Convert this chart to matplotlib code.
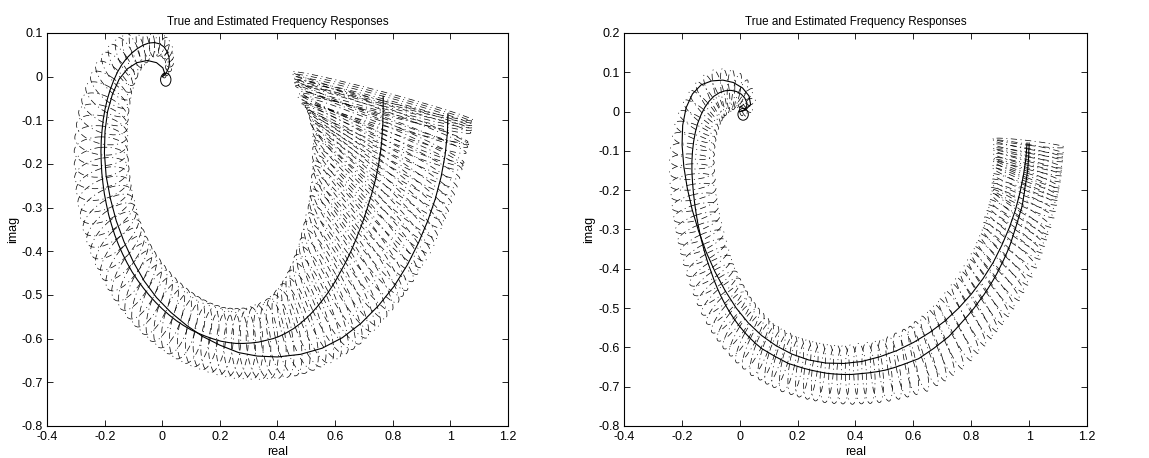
import numpy as np
import matplotlib
matplotlib.use("Agg")
import matplotlib.pyplot as plt
from matplotlib.patches import Ellipse

plt.rcParams['font.family'] = ['Liberation Sans', 'DejaVu Sans']

# ---- left panel ----
# estimated response (also the ellipse centres), low to high frequency
left_est_x = [0.767, 0.767, 0.767, 0.767, 0.767, 0.767, 0.767, 0.766, 0.766, 0.766, 0.765, 0.764,
              0.763, 0.762, 0.760, 0.758, 0.755, 0.752, 0.748, 0.744, 0.739, 0.733, 0.727, 0.720,
              0.713, 0.705, 0.697, 0.688, 0.678, 0.668, 0.657, 0.645, 0.632,
              0.618, 0.604, 0.589, 0.573, 0.556, 0.538, 0.519, 0.499, 0.478, 0.456, 0.433, 0.409, 0.385,
              0.360, 0.334, 0.308, 0.282, 0.256, 0.230, 0.204, 0.178, 0.152, 0.126, 0.100, 0.074, 0.049,
              0.024, 0.000, -0.023, -0.045, -0.066, -0.086, -0.105, -0.122, -0.138, -0.152, -0.165,
              -0.176, -0.186, -0.194, -0.201, -0.206, -0.210, -0.212, -0.213, -0.212, -0.209, -0.205,
              -0.199, -0.191, -0.181, -0.169, -0.156, -0.141, -0.124, -0.106, -0.087, -0.067, -0.047,
              -0.027, -0.009, 0.006, 0.017, 0.023, 0.025, 0.022, 0.015, 0.007]
left_est_y = [-0.045, -0.050, -0.056, -0.062, -0.068, -0.075, -0.082, -0.090, -0.098, -0.107, -0.116, -0.126,
              -0.137, -0.148, -0.160, -0.172, -0.185, -0.198, -0.211, -0.225, -0.239, -0.254, -0.269, -0.284,
              -0.299, -0.315, -0.331, -0.347, -0.363, -0.380, -0.397, -0.414, -0.431,
              -0.448, -0.465, -0.481, -0.497, -0.512, -0.527, -0.541, -0.554, -0.566, -0.577, -0.586, -0.594, -0.600,
              -0.604, -0.608, -0.610, -0.611, -0.611, -0.609, -0.606, -0.601, -0.595, -0.588, -0.580, -0.570, -0.559,
              -0.546, -0.532, -0.517, -0.501, -0.484, -0.466, -0.447, -0.427, -0.406, -0.385, -0.363,
              -0.340, -0.317, -0.293, -0.269, -0.245, -0.221, -0.196, -0.171, -0.146, -0.122, -0.098,
              -0.075, -0.052, -0.030, -0.009, 0.010, 0.027, 0.042, 0.054, 0.064, 0.072, 0.077,
              0.078, 0.075, 0.068, 0.057, 0.045, 0.032, 0.020, 0.010, 0.003]
# uncertainty ellipses: half axis across the curve / along the curve, extra tilt (deg)
left_ell_a = [0.320, 0.318, 0.316, 0.314, 0.312, 0.309, 0.306, 0.303, 0.300, 0.297, 0.294, 0.291,
              0.288, 0.284, 0.280, 0.276, 0.272, 0.268, 0.264, 0.259, 0.254, 0.249, 0.244, 0.239,
              0.234, 0.228, 0.222, 0.216, 0.210, 0.204, 0.198, 0.192, 0.185,
              0.178, 0.171, 0.164, 0.156, 0.148, 0.140, 0.132, 0.124, 0.117, 0.110, 0.104, 0.098, 0.093,
              0.089, 0.086, 0.083, 0.081, 0.080, 0.079, 0.078, 0.078, 0.078, 0.079, 0.080, 0.081, 0.082,
              0.083, 0.084, 0.085, 0.086, 0.087, 0.088, 0.089, 0.090, 0.091, 0.092, 0.093,
              0.094, 0.095, 0.095, 0.095, 0.095, 0.095, 0.094, 0.093, 0.092, 0.090, 0.087,
              0.084, 0.080, 0.076, 0.072, 0.067, 0.062, 0.057, 0.052, 0.047, 0.042, 0.037,
              0.033, 0.029, 0.025, 0.021, 0.017, 0.014, 0.011, 0.008, 0.006]
left_ell_b = [0.010, 0.010, 0.011, 0.011, 0.012, 0.012, 0.013, 0.013, 0.014, 0.015, 0.015, 0.016,
              0.017, 0.018, 0.019, 0.020, 0.021, 0.022, 0.023, 0.024, 0.025, 0.026, 0.027, 0.028,
              0.029, 0.030, 0.031, 0.032, 0.033, 0.034, 0.035, 0.036, 0.037,
              0.038, 0.039, 0.040, 0.040, 0.041, 0.041, 0.042, 0.042, 0.042, 0.042, 0.042, 0.042, 0.042,
              0.042, 0.042, 0.042, 0.042, 0.042, 0.042, 0.042, 0.042, 0.042, 0.042, 0.042, 0.042, 0.042,
              0.041, 0.041, 0.040, 0.040, 0.040, 0.039, 0.039, 0.038, 0.038, 0.037, 0.037,
              0.036, 0.036, 0.035, 0.035, 0.035, 0.034, 0.034, 0.033, 0.033, 0.032, 0.031,
              0.030, 0.029, 0.028, 0.027, 0.026, 0.025, 0.024, 0.023, 0.022, 0.021, 0.020,
              0.018, 0.017, 0.015, 0.013, 0.011, 0.010, 0.008, 0.007, 0.006]
left_ell_tilt = [-10, -10, -10, -10, -10, -10, -10, -10, -10, -10, -10, -10,
                 -10, -10, -10, -10, -10, -10, -10, -10, -10, -10, -10, -10,
                 -10, -10, -10, -10, -10, -10, -10, -10, -10,
                 -9.5, -9, -8, -7, -6, -5, -4, -3, -2, -1.5, -1, -0.5, 0,
                 0, 0, 0, 0, 0, 0, 0, 0, 0, 0, 0, 0, 0,
                 0, 0, 0, 0, 0, 0, 0, 0, 0, 0, 0,
                 0, 0, 0, 0, 0, 0, 0, 0, 0, 0, 0,
                 0, 0, 0, 0, 0, 0, 0, 0, 0, 0, 0,
                 0, 0, 0, 0, 0, 0, 0, 0, 0]
# true response
left_true_x = [0.992, 0.990, 0.982, 0.968, 0.948, 0.922, 0.890, 0.852, 0.805, 0.750, 0.690, 0.625,
               0.555, 0.480, 0.400, 0.330, 0.265, 0.200, 0.140, 0.085, 0.030, -0.020, -0.063, -0.100,
               -0.133, -0.160, -0.180, -0.195, -0.201, -0.199, -0.190, -0.173, -0.150, -0.121, -0.088,
               -0.052, -0.020, 0.002, 0.008, 0.000]
left_true_y = [-0.085, -0.130, -0.180, -0.230, -0.280, -0.330, -0.380, -0.430, -0.480, -0.525, -0.565, -0.598,
               -0.622, -0.636, -0.642, -0.640, -0.632, -0.615, -0.595, -0.570, -0.540, -0.506, -0.468, -0.425,
               -0.378, -0.330, -0.280, -0.228, -0.175, -0.125, -0.080, -0.040, -0.006, 0.018, 0.032,
               0.037, 0.032, 0.020, 0.008, 0.000]

# ---- right panel ----
right_est_x = [1.000, 1.000, 0.999, 0.999, 0.998, 0.997, 0.996, 0.995, 0.993, 0.991, 0.989, 0.986,
               0.984, 0.981, 0.978, 0.974, 0.968, 0.962, 0.956, 0.949, 0.942, 0.934, 0.924, 0.913,
               0.901, 0.889, 0.875, 0.860, 0.844, 0.827,
               0.810, 0.791, 0.768, 0.745, 0.722, 0.696, 0.670, 0.644, 0.618, 0.589, 0.560, 0.532,
               0.503, 0.474, 0.445, 0.416, 0.387, 0.358, 0.330, 0.301,
               0.272, 0.246, 0.220, 0.194, 0.168, 0.145, 0.122, 0.099, 0.076, 0.055, 0.035, 0.016,
               -0.002, -0.019, -0.035, -0.050, -0.064, -0.077, -0.089, -0.100,
               -0.111, -0.121, -0.130, -0.138, -0.145, -0.151, -0.156, -0.160, -0.163, -0.165, -0.165,
               -0.163, -0.159, -0.153, -0.145, -0.134, -0.121, -0.106, -0.089, -0.070,
               -0.050, -0.030, -0.011, 0.006, 0.018, 0.025, 0.024, 0.015, 0.006]
right_est_y = [-0.080, -0.090, -0.100, -0.110, -0.120, -0.130, -0.140, -0.150, -0.160, -0.170, -0.180, -0.192,
               -0.205, -0.218, -0.232, -0.246, -0.260, -0.275, -0.290, -0.306, -0.322, -0.340, -0.358, -0.376,
               -0.394, -0.412, -0.430, -0.448, -0.466, -0.483,
               -0.500, -0.517, -0.536, -0.555, -0.573, -0.588, -0.603, -0.616, -0.629, -0.637, -0.645, -0.652,
               -0.658, -0.662, -0.665, -0.667, -0.669, -0.669, -0.668, -0.666,
               -0.662, -0.658, -0.653, -0.647, -0.641, -0.632, -0.623, -0.613, -0.603, -0.590, -0.576, -0.561,
               -0.545, -0.528, -0.510, -0.491, -0.471, -0.450, -0.428, -0.405,
               -0.382, -0.358, -0.333, -0.308, -0.283, -0.257, -0.231, -0.205, -0.179, -0.153, -0.127,
               -0.101, -0.076, -0.052, -0.030, -0.009, 0.010, 0.026, 0.039, 0.048,
               0.053, 0.054, 0.051, 0.044, 0.034, 0.022, 0.011, 0.004, 0.001]
right_ell_a = [0.125, 0.125, 0.124, 0.124, 0.123, 0.123, 0.122, 0.122, 0.121, 0.121, 0.120, 0.119,
               0.118, 0.117, 0.116, 0.115, 0.114, 0.113, 0.112, 0.111, 0.110, 0.109, 0.108, 0.107,
               0.106, 0.105, 0.104, 0.103, 0.102, 0.101,
               0.100, 0.099, 0.098, 0.097, 0.096, 0.094, 0.092, 0.090, 0.088, 0.086, 0.084, 0.082,
               0.080, 0.079, 0.078, 0.077, 0.076, 0.075, 0.075, 0.075,
               0.075, 0.075, 0.075, 0.075, 0.075, 0.075, 0.076, 0.076, 0.077, 0.077, 0.078, 0.078,
               0.079, 0.079, 0.080, 0.080, 0.080, 0.080, 0.080, 0.080,
               0.080, 0.080, 0.080, 0.080, 0.080, 0.080, 0.080, 0.079, 0.079, 0.078, 0.077,
               0.076, 0.075, 0.074, 0.072, 0.070, 0.068, 0.066, 0.064, 0.062,
               0.058, 0.054, 0.048, 0.042, 0.036, 0.030, 0.024, 0.018, 0.012]
right_ell_b = [0.006, 0.006, 0.006, 0.006, 0.007, 0.007, 0.007, 0.007, 0.008, 0.008, 0.008, 0.008,
               0.009, 0.009, 0.009, 0.010, 0.010, 0.010, 0.011, 0.011, 0.011, 0.012, 0.012, 0.012,
               0.013, 0.013, 0.013, 0.014, 0.014, 0.014,
               0.015, 0.015, 0.016, 0.016, 0.017, 0.017, 0.018, 0.018, 0.019, 0.019, 0.020, 0.020,
               0.021, 0.021, 0.022, 0.022, 0.022, 0.022, 0.022, 0.022,
               0.022, 0.022, 0.022, 0.022, 0.022, 0.022, 0.022, 0.022, 0.022, 0.022, 0.021, 0.021,
               0.021, 0.021, 0.021, 0.021, 0.021, 0.021, 0.021, 0.021,
               0.020, 0.020, 0.020, 0.020, 0.020, 0.020, 0.020, 0.020, 0.020, 0.020, 0.019,
               0.019, 0.018, 0.018, 0.017, 0.017, 0.016, 0.016, 0.015, 0.015,
               0.014, 0.013, 0.012, 0.011, 0.010, 0.009, 0.008, 0.007, 0.006]
right_ell_tilt = [-5, -5, -5, -5, -5, -5, -5, -5, -5, -5, -5, -5,
                  -5, -5, -5, -5, -5, -5, -5, -5, -5, -5, -5, -5,
                  -5, -5, -5, -5, -5, -5,
                  -4.5, -4, -3.5, -3, -2.5, -2, -1.5, -1, -0.5, 0, 0, 0,
                  0, 0, 0, 0, 0, 0, 0, 0,
                  0, 0, 0, 0, 0, 0, 0, 0, 0, 0, 0, 0,
                  0, 0, 0, 0, 0, 0, 0, 0,
                  0, 0, 0, 0, 0, 0, 0, 0, 0, 0, 0,
                  0, 0, 0, 0, 0, 0, 0, 0, 0,
                  0, 0, 0, 0, 0, 0, 0, 0, 0]
right_true_x = [0.993, 0.989, 0.981, 0.969, 0.953, 0.932, 0.906, 0.876, 0.841, 0.801, 0.757, 0.709,
                0.657, 0.602, 0.544, 0.484, 0.422, 0.360, 0.298, 0.238, 0.180, 0.126, 0.076, 0.030,
                -0.012, -0.050, -0.085, -0.116, -0.142, -0.164, -0.181, -0.193, -0.199, -0.197, -0.185,
                -0.163, -0.133, -0.097, -0.058, -0.022, 0.010, 0.032, 0.038, 0.020, 0.000]
right_true_y = [-0.080, -0.120, -0.160, -0.205, -0.250, -0.295, -0.340, -0.384, -0.425, -0.464, -0.500, -0.533,
                -0.562, -0.587, -0.608, -0.624, -0.636, -0.641, -0.640, -0.632, -0.617, -0.596, -0.570, -0.538,
                -0.500, -0.456, -0.408, -0.357, -0.304, -0.250, -0.195, -0.140, -0.085, -0.035, 0.010,
                0.045, 0.068, 0.078, 0.080, 0.074, 0.060, 0.040, 0.018, 0.004, 0.000]

x_ticks = [-0.4, -0.2, 0, 0.2, 0.4, 0.6, 0.8, 1, 1.2]
x_labels = ['-0.4', '-0.2', '0', '0.2', '0.4', '0.6', '0.8', '1', '1.2']
left_y_ticks = [-0.8, -0.7, -0.6, -0.5, -0.4, -0.3, -0.2, -0.1, 0, 0.1]
left_y_labels = ['-0.8', '-0.7', '-0.6', '-0.5', '-0.4', '-0.3', '-0.2', '-0.1', '0', '0.1']
right_y_ticks = [-0.8, -0.7, -0.6, -0.5, -0.4, -0.3, -0.2, -0.1, 0, 0.1, 0.2]
right_y_labels = ['-0.8', '-0.7', '-0.6', '-0.5', '-0.4', '-0.3', '-0.2', '-0.1', '0', '0.1', '0.2']

# small solid circle at the origin
origin_circle = (0.012, -0.007)
origin_circle_size = (0.036, 0.030)

fig = plt.figure(figsize=(11.49, 4.58), dpi=100)
ax1 = fig.add_axes([0.041, 0.070, 0.401, 0.858])
ax2 = fig.add_axes([0.543, 0.070, 0.403, 0.858])


def draw_panel(ax, ex, ey, ea, eb, et, tx, ty, yticks, ylabels):
    assert len(ex) == len(ey) == len(ea) == len(eb) == len(et)
    assert len(tx) == len(ty)
    full_x = np.append(ex, 0.0)
    full_y = np.append(ey, 0.0)
    # direction of the curve at each centre
    dx = np.gradient(full_x)[:-1]
    dy = np.gradient(full_y)[:-1]
    ang = np.degrees(np.arctan2(dy, dx))
    for cx, cy, a, b, th, tl in zip(ex, ey, ea, eb, ang, et):
        ax.add_patch(Ellipse((cx, cy), 2 * a, 2 * b, angle=th + 90 + tl, fill=False,
                             ec='black', lw=0.5, ls=(0, (9, 5, 1.5, 5))))
    ax.add_patch(Ellipse(origin_circle, *origin_circle_size, fill=False, ec='black', lw=0.7))
    ax.plot(full_x, full_y, '-', color='black', lw=0.8)
    ax.plot(tx, ty, '-', color='black', lw=0.8)
    ax.set_xlim(-0.4, 1.2)
    ax.set_ylim(yticks[0], yticks[-1])
    ax.set_xticks(x_ticks)
    ax.set_xticklabels(x_labels)
    ax.set_yticks(yticks)
    ax.set_yticklabels(ylabels)
    ax.tick_params(direction='in', top=True, right=True, labelsize=9, length=4, width=0.6)
    ax.tick_params(axis='x', pad=4)
    ax.tick_params(axis='y', pad=3)
    for s in ax.spines.values():
        s.set_linewidth(0.8)
    ax.set_title('True and Estimated Frequency Responses', fontsize=8.4, pad=6)
    ax.set_xlabel('real', fontsize=9, labelpad=2)
    ax.set_ylabel('imag', fontsize=9, labelpad=2)


draw_panel(ax1, left_est_x, left_est_y, left_ell_a, left_ell_b, left_ell_tilt,
           left_true_x, left_true_y, left_y_ticks, left_y_labels)
draw_panel(ax2, right_est_x, right_est_y, right_ell_a, right_ell_b, right_ell_tilt,
           right_true_x, right_true_y, right_y_ticks, right_y_labels)

fig.savefig('out.png', dpi=100)
